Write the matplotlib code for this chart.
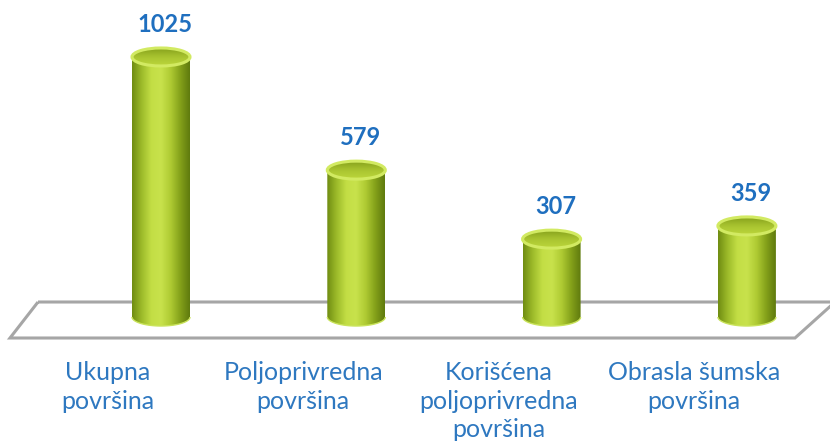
import numpy as np
import matplotlib
matplotlib.use("Agg")
import matplotlib.pyplot as plt
from matplotlib.patches import Ellipse, PathPatch, Polygon
from matplotlib.path import Path
from matplotlib.colors import LinearSegmentedColormap

# podaci
kategorije = ["Ukupna\npovršina", "Poljoprivredna\npovršina",
              "Korišćena\npoljoprivredna\npovršina", "Obrasla šumska\npovršina"]
vrijednosti = [1025, 579, 307, 359]

plt.rcParams['font.family'] = ['Lato', 'DejaVu Sans']

W, H = 830, 445
fig = plt.figure(figsize=(W / 100, H / 100), dpi=100)
ax = fig.add_axes([0, 0, 1, 1])
ax.set_axis_off()

# skale: razmak stubova ~195 px, 1 jedinica ~0.2537 px
dx = 195.3
upp = 3.942   # jedinica po pikselu (y)
x0_px = 161
base_px = H - 317
ax.set_xlim(-x0_px / dx, (W - x0_px) / dx)
ax.set_ylim(-base_px * upp, (H - base_px) * upp)

def px(x, y):
    # piksel (od gore lijevo) -> podatak
    return (x - x0_px) / dx, (H - y - base_px) * upp

# pod (paralelogram)
pod = [px(38, 302), px(835, 302), px(795, 338), px(10, 338)]
ax.add_patch(Polygon(pod, closed=True, fill=False, edgecolor='#a6a6a6',
                     lw=2.2, joinstyle='miter', zorder=1))

bw = 58 / dx          # sirina stuba
eh = 18 * upp         # visina elipse

cmap = LinearSegmentedColormap.from_list(
    'cil', ['#6f8c12', '#9dbb2a', '#c3de45', '#c8e24c', '#afcb33', '#84a11a', '#5f7a0e'])
grad = np.linspace(0, 1, 256).reshape(1, -1)
cmap_vrh = LinearSegmentedColormap.from_list('vrh', ['#86a21c', '#a9c430', '#bcd63c'])
grad_v = np.linspace(0, 1, 64).reshape(-1, 1)

for i, v in enumerate(vrijednosti):
    xl, xr = i - bw / 2, i + bw / 2
    t = np.linspace(np.pi, 2 * np.pi, 40)
    arc = np.column_stack([i + bw / 2 * np.cos(t), eh / 2 * np.sin(t)])
    verts = np.vstack([[xl, v], [xl, 0], arc, [xr, 0], [xr, v], [xl, v]])
    codes = [Path.MOVETO] + [Path.LINETO] * (len(verts) - 2) + [Path.CLOSEPOLY]
    body = PathPatch(Path(verts, codes), facecolor='none', edgecolor='none', zorder=2)
    ax.add_patch(body)
    im = ax.imshow(grad, cmap=cmap, aspect='auto', extent=[xl, xr, -eh, v],
                   zorder=2, interpolation='bicubic')
    im.set_clip_path(body)
    # rub dna
    ax.add_patch(PathPatch(Path(np.vstack([[xl, 0], arc, [xr, 0]])), fill=False,
                           edgecolor='#c9e35a', lw=1, zorder=3))
    # vrh
    vrh = Ellipse((i, v), bw, eh, facecolor='#a9c52c', edgecolor='none', zorder=4)
    ax.add_patch(vrh)
    im2 = ax.imshow(grad_v, cmap=cmap_vrh, aspect='auto', origin='upper',
                    extent=[xl, xr, v - eh / 2, v + eh / 2], zorder=4,
                    interpolation='bicubic')
    im2.set_clip_path(vrh)
    ax.add_patch(Ellipse((i, v), bw, eh, facecolor='none',
                         edgecolor='#d2ea62', lw=2.2, zorder=5))
    ax.annotate(str(v), (i, v), xytext=(4, 21), textcoords='offset pixels',
                ha='center', va='bottom', fontsize=17, fontweight='bold',
                color='#1f6fbf')
    ax.annotate(kategorije[i], (i, 0), xytext=(-53, -44), textcoords='offset pixels',
                ha='center', va='top', fontsize=18, color='#2e78c0',
                linespacing=1.3)

fig.savefig('out.png', dpi=100)
